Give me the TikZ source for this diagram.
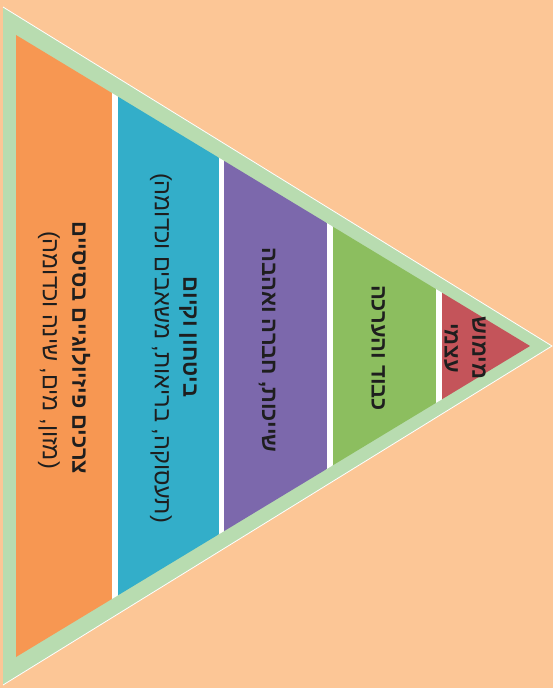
\documentclass[tikz,border=0pt]{standalone}
\usepackage{fontspec}
\setmainfont{Liberation Sans}
\newfontfamily\hebfont[Script=Hebrew]{Liberation Sans}
\TeXXeTstate=1
\definecolor{bgpeach}{HTML}{FCC696}
\definecolor{frame}{HTML}{B8DCB0}
\definecolor{bandA}{HTML}{F79752}
\definecolor{bandB}{HTML}{33AEC9}
\definecolor{bandC}{HTML}{7C68AC}
\definecolor{bandD}{HTML}{8CBE5F}
\definecolor{bandE}{HTML}{C4545A}
\definecolor{txtc}{HTML}{1E1E1E}
\tikzset{
  lbl/.style={rotate=-90, inner sep=0pt, text=txtc, font=\hebfont\fontsize{23.5}{26}\selectfont},
  lblb/.style={lbl, font=\hebfont\bfseries\fontsize{22}{25}\selectfont},
  sep/.style={fill=white}
}
\begin{document}
\begin{tikzpicture}[x=1pt,y=-1pt]
\useasboundingbox (0,0) rectangle (553,688);
\fill[bgpeach] (0,0) rectangle (553,688);
% outer frame
\fill[frame] (3,7) -- (552,346) -- (3,685) -- cycle;
\draw[white, line width=0.8pt] (3,7) -- (552,346) -- (3,685);
% bands
\begin{scope}
\clip (16,35) -- (530,346) -- (16,657) -- cycle;
\fill[bandA] (16,0) rectangle (112,688);
\fill[sep] (112,0) rectangle (118,688);
\fill[bandB] (118,0) rectangle (219,688);
\fill[sep] (219,0) rectangle (224,688);
\fill[bandC] (224,0) rectangle (327,688);
\fill[sep] (327,0) rectangle (333,688);
\fill[bandD] (333,0) rectangle (436,688);
\fill[sep] (436,0) rectangle (442,688);
\fill[bandE] (442,0) rectangle (530,688);
\end{scope}
% labels
\node[lblb] (a1) at (81,348) {\beginR צרכים פיזיולוגיים בסיסיים\endR};
\node[lbl]  (a2) at (49,350) {\beginR (מזון, מים, שינה וכדומה)\endR};
\node[lblb] (b1) at (188,337) {\beginR ביטחון וקיום\endR};
\node[lbl]  (b2) at (161,348) {\beginR (תעסוקה, בריאות, משאבים וכדומה)\endR};
\node[lblb] (c1) at (267,350) {\beginR שייכות, חברה ואהבה\endR};
\node[lblb] (d1) at (378,348) {\beginR כבוד והערכה\endR};
\node[lblb] (e1) at (479,348) {\beginR מימוש\endR};
\node[lblb] (e2) at (451,348) {\beginR עצמי\endR};
\end{tikzpicture}
\end{document}
